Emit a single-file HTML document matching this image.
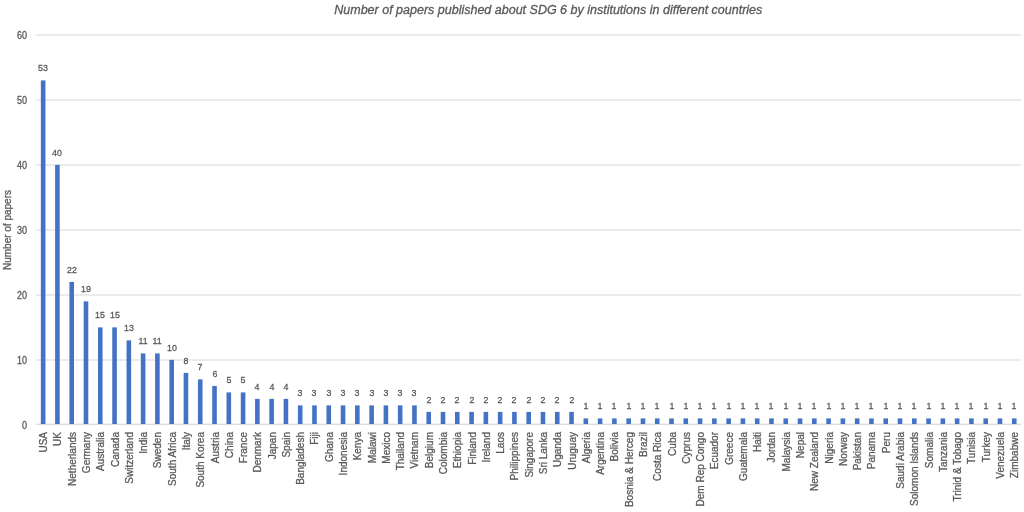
<!DOCTYPE html>
<html><head><meta charset="utf-8"><style>
html,body{margin:0;padding:0;background:#fff;}
body{width:1024px;height:512px;position:relative;overflow:hidden;font-family:"Liberation Sans",sans-serif;color:#595959;}
.g{position:absolute;left:36.0px;width:985.40px;height:2px;background:#EBEBEB;}
.ax{position:absolute;left:36.0px;width:985.40px;height:1px;background:#DCDCDC;}
#tx{position:absolute;left:0;top:0;width:1024px;height:512px;will-change:transform;}
#tx div{-webkit-text-stroke:0.3px #595959;}
.b{position:absolute;width:4.6px;background:#4472C4;}
.l{position:absolute;width:40px;text-align:center;font-size:9.8px;line-height:10px;height:10px;white-space:nowrap;transform:scaleX(0.9);}
.c{position:absolute;font-size:10.0px;line-height:12px;height:12px;width:120px;text-align:right;white-space:nowrap;transform-origin:0 0;}
.y{position:absolute;width:30px;text-align:right;font-size:10.0px;line-height:10px;height:10px;transform:translateY(0.5px) scaleX(0.9);transform-origin:100% 50%;}
.t{position:absolute;font-style:italic;font-size:12.5px;line-height:16px;height:16px;width:600px;text-align:center;white-space:nowrap;}
.a{position:absolute;font-size:10.0px;line-height:12px;height:12px;width:200px;text-align:center;white-space:nowrap;transform-origin:100px 6px;}
</style></head><body>
<div class="g" style="top:359.00px"></div><div class="g" style="top:294.00px"></div><div class="g" style="top:229.00px"></div><div class="g" style="top:164.00px"></div><div class="g" style="top:99.00px"></div><div class="g" style="top:34.00px"></div><div class="ax" style="top:423px;background:#F2F2F2"></div><div class="ax" style="top:424px"></div><svg width="1024" height="512" style="position:absolute;left:0;top:0" fill="#4472C4"><rect x="40.84" y="80.40" width="4.6" height="343.60"/><rect x="55.12" y="164.90" width="4.6" height="259.10"/><rect x="69.40" y="281.90" width="4.6" height="142.10"/><rect x="83.68" y="301.40" width="4.6" height="122.60"/><rect x="97.97" y="327.40" width="4.6" height="96.60"/><rect x="112.25" y="327.40" width="4.6" height="96.60"/><rect x="126.53" y="340.40" width="4.6" height="83.60"/><rect x="140.81" y="353.40" width="4.6" height="70.60"/><rect x="155.09" y="353.40" width="4.6" height="70.60"/><rect x="169.37" y="359.90" width="4.6" height="64.10"/><rect x="183.65" y="372.90" width="4.6" height="51.10"/><rect x="197.93" y="379.40" width="4.6" height="44.60"/><rect x="212.21" y="385.90" width="4.6" height="38.10"/><rect x="226.50" y="392.40" width="4.6" height="31.60"/><rect x="240.78" y="392.40" width="4.6" height="31.60"/><rect x="255.06" y="398.90" width="4.6" height="25.10"/><rect x="269.34" y="398.90" width="4.6" height="25.10"/><rect x="283.62" y="398.90" width="4.6" height="25.10"/><rect x="297.90" y="405.40" width="4.6" height="18.60"/><rect x="312.18" y="405.40" width="4.6" height="18.60"/><rect x="326.46" y="405.40" width="4.6" height="18.60"/><rect x="340.74" y="405.40" width="4.6" height="18.60"/><rect x="355.03" y="405.40" width="4.6" height="18.60"/><rect x="369.31" y="405.40" width="4.6" height="18.60"/><rect x="383.59" y="405.40" width="4.6" height="18.60"/><rect x="397.87" y="405.40" width="4.6" height="18.60"/><rect x="412.15" y="405.40" width="4.6" height="18.60"/><rect x="426.43" y="411.90" width="4.6" height="12.10"/><rect x="440.71" y="411.90" width="4.6" height="12.10"/><rect x="454.99" y="411.90" width="4.6" height="12.10"/><rect x="469.28" y="411.90" width="4.6" height="12.10"/><rect x="483.56" y="411.90" width="4.6" height="12.10"/><rect x="497.84" y="411.90" width="4.6" height="12.10"/><rect x="512.12" y="411.90" width="4.6" height="12.10"/><rect x="526.40" y="411.90" width="4.6" height="12.10"/><rect x="540.68" y="411.90" width="4.6" height="12.10"/><rect x="554.96" y="411.90" width="4.6" height="12.10"/><rect x="569.24" y="411.90" width="4.6" height="12.10"/><rect x="583.52" y="418.40" width="4.6" height="5.60"/><rect x="597.81" y="418.40" width="4.6" height="5.60"/><rect x="612.09" y="418.40" width="4.6" height="5.60"/><rect x="626.37" y="418.40" width="4.6" height="5.60"/><rect x="640.65" y="418.40" width="4.6" height="5.60"/><rect x="654.93" y="418.40" width="4.6" height="5.60"/><rect x="669.21" y="418.40" width="4.6" height="5.60"/><rect x="683.49" y="418.40" width="4.6" height="5.60"/><rect x="697.77" y="418.40" width="4.6" height="5.60"/><rect x="712.06" y="418.40" width="4.6" height="5.60"/><rect x="726.34" y="418.40" width="4.6" height="5.60"/><rect x="740.62" y="418.40" width="4.6" height="5.60"/><rect x="754.90" y="418.40" width="4.6" height="5.60"/><rect x="769.18" y="418.40" width="4.6" height="5.60"/><rect x="783.46" y="418.40" width="4.6" height="5.60"/><rect x="797.74" y="418.40" width="4.6" height="5.60"/><rect x="812.02" y="418.40" width="4.6" height="5.60"/><rect x="826.30" y="418.40" width="4.6" height="5.60"/><rect x="840.59" y="418.40" width="4.6" height="5.60"/><rect x="854.87" y="418.40" width="4.6" height="5.60"/><rect x="869.15" y="418.40" width="4.6" height="5.60"/><rect x="883.43" y="418.40" width="4.6" height="5.60"/><rect x="897.71" y="418.40" width="4.6" height="5.60"/><rect x="911.99" y="418.40" width="4.6" height="5.60"/><rect x="926.27" y="418.40" width="4.6" height="5.60"/><rect x="940.55" y="418.40" width="4.6" height="5.60"/><rect x="954.83" y="418.40" width="4.6" height="5.60"/><rect x="969.12" y="418.40" width="4.6" height="5.60"/><rect x="983.40" y="418.40" width="4.6" height="5.60"/><rect x="997.68" y="418.40" width="4.6" height="5.60"/><rect x="1011.96" y="418.40" width="4.6" height="5.60"/></svg><div id="tx"><div class="t" style="left:248.30px;top:1.60px">Number of papers published about SDG 6 by institutions in different countries</div>
<div class="a" style="left:-92.50px;top:223.50px;transform:rotate(-90deg)">Number of papers</div>
<div class="y" style="left:-2.70px;top:419.50px">0</div>
<div class="y" style="left:-2.70px;top:354.50px">10</div>
<div class="y" style="left:-2.70px;top:289.50px">20</div>
<div class="y" style="left:-2.70px;top:224.50px">30</div>
<div class="y" style="left:-2.70px;top:159.50px">40</div>
<div class="y" style="left:-2.70px;top:94.50px">50</div>
<div class="y" style="left:-2.70px;top:29.50px">60</div>
<div class="l" style="left:23.14px;top:63.40px">53</div><div class="c" style="left:38.14px;top:551.50px;transform:rotate(-90deg)">USA</div>
<div class="l" style="left:37.42px;top:147.90px">40</div><div class="c" style="left:52.42px;top:551.50px;transform:rotate(-90deg)">UK</div>
<div class="l" style="left:51.70px;top:264.90px">22</div><div class="c" style="left:66.70px;top:551.50px;transform:rotate(-90deg)">Netherlands</div>
<div class="l" style="left:65.98px;top:284.40px">19</div><div class="c" style="left:80.98px;top:551.50px;transform:rotate(-90deg)">Germany</div>
<div class="l" style="left:80.27px;top:310.40px">15</div><div class="c" style="left:95.27px;top:551.50px;transform:rotate(-90deg)">Australia</div>
<div class="l" style="left:94.55px;top:310.40px">15</div><div class="c" style="left:109.55px;top:551.50px;transform:rotate(-90deg)">Canada</div>
<div class="l" style="left:108.83px;top:323.40px">13</div><div class="c" style="left:123.83px;top:551.50px;transform:rotate(-90deg)">Switzerland</div>
<div class="l" style="left:123.11px;top:336.40px">11</div><div class="c" style="left:138.11px;top:551.50px;transform:rotate(-90deg)">India</div>
<div class="l" style="left:137.39px;top:336.40px">11</div><div class="c" style="left:152.39px;top:551.50px;transform:rotate(-90deg)">Sweden</div>
<div class="l" style="left:151.67px;top:342.90px">10</div><div class="c" style="left:166.67px;top:551.50px;transform:rotate(-90deg)">South Africa</div>
<div class="l" style="left:165.95px;top:355.90px">8</div><div class="c" style="left:180.95px;top:551.50px;transform:rotate(-90deg)">Italy</div>
<div class="l" style="left:180.23px;top:362.40px">7</div><div class="c" style="left:195.23px;top:551.50px;transform:rotate(-90deg)">South Korea</div>
<div class="l" style="left:194.51px;top:368.90px">6</div><div class="c" style="left:209.51px;top:551.50px;transform:rotate(-90deg)">Austria</div>
<div class="l" style="left:208.80px;top:375.40px">5</div><div class="c" style="left:223.80px;top:551.50px;transform:rotate(-90deg)">China</div>
<div class="l" style="left:223.08px;top:375.40px">5</div><div class="c" style="left:238.08px;top:551.50px;transform:rotate(-90deg)">France</div>
<div class="l" style="left:237.36px;top:381.90px">4</div><div class="c" style="left:252.36px;top:551.50px;transform:rotate(-90deg)">Denmark</div>
<div class="l" style="left:251.64px;top:381.90px">4</div><div class="c" style="left:266.64px;top:551.50px;transform:rotate(-90deg)">Japan</div>
<div class="l" style="left:265.92px;top:381.90px">4</div><div class="c" style="left:280.92px;top:551.50px;transform:rotate(-90deg)">Spain</div>
<div class="l" style="left:280.20px;top:388.40px">3</div><div class="c" style="left:295.20px;top:551.50px;transform:rotate(-90deg)">Bangladesh</div>
<div class="l" style="left:294.48px;top:388.40px">3</div><div class="c" style="left:309.48px;top:551.50px;transform:rotate(-90deg)">Fiji</div>
<div class="l" style="left:308.76px;top:388.40px">3</div><div class="c" style="left:323.76px;top:551.50px;transform:rotate(-90deg)">Ghana</div>
<div class="l" style="left:323.04px;top:388.40px">3</div><div class="c" style="left:338.04px;top:551.50px;transform:rotate(-90deg)">Indonesia</div>
<div class="l" style="left:337.33px;top:388.40px">3</div><div class="c" style="left:352.33px;top:551.50px;transform:rotate(-90deg)">Kenya</div>
<div class="l" style="left:351.61px;top:388.40px">3</div><div class="c" style="left:366.61px;top:551.50px;transform:rotate(-90deg)">Malawi</div>
<div class="l" style="left:365.89px;top:388.40px">3</div><div class="c" style="left:380.89px;top:551.50px;transform:rotate(-90deg)">Mexico</div>
<div class="l" style="left:380.17px;top:388.40px">3</div><div class="c" style="left:395.17px;top:551.50px;transform:rotate(-90deg)">Thailand</div>
<div class="l" style="left:394.45px;top:388.40px">3</div><div class="c" style="left:409.45px;top:551.50px;transform:rotate(-90deg)">Vietnam</div>
<div class="l" style="left:408.73px;top:394.90px">2</div><div class="c" style="left:423.73px;top:551.50px;transform:rotate(-90deg)">Belgium</div>
<div class="l" style="left:423.01px;top:394.90px">2</div><div class="c" style="left:438.01px;top:551.50px;transform:rotate(-90deg)">Colombia</div>
<div class="l" style="left:437.29px;top:394.90px">2</div><div class="c" style="left:452.29px;top:551.50px;transform:rotate(-90deg)">Ethiopia</div>
<div class="l" style="left:451.58px;top:394.90px">2</div><div class="c" style="left:466.58px;top:551.50px;transform:rotate(-90deg)">Finland</div>
<div class="l" style="left:465.86px;top:394.90px">2</div><div class="c" style="left:480.86px;top:551.50px;transform:rotate(-90deg)">Ireland</div>
<div class="l" style="left:480.14px;top:394.90px">2</div><div class="c" style="left:495.14px;top:551.50px;transform:rotate(-90deg)">Laos</div>
<div class="l" style="left:494.42px;top:394.90px">2</div><div class="c" style="left:509.42px;top:551.50px;transform:rotate(-90deg)">Philippines</div>
<div class="l" style="left:508.70px;top:394.90px">2</div><div class="c" style="left:523.70px;top:551.50px;transform:rotate(-90deg)">Singapore</div>
<div class="l" style="left:522.98px;top:394.90px">2</div><div class="c" style="left:537.98px;top:551.50px;transform:rotate(-90deg)">Sri Lanka</div>
<div class="l" style="left:537.26px;top:394.90px">2</div><div class="c" style="left:552.26px;top:551.50px;transform:rotate(-90deg)">Uganda</div>
<div class="l" style="left:551.54px;top:394.90px">2</div><div class="c" style="left:566.54px;top:551.50px;transform:rotate(-90deg)">Uruguay</div>
<div class="l" style="left:565.82px;top:401.40px">1</div><div class="c" style="left:580.82px;top:551.50px;transform:rotate(-90deg)">Algeria</div>
<div class="l" style="left:580.11px;top:401.40px">1</div><div class="c" style="left:595.11px;top:551.50px;transform:rotate(-90deg)">Argentina</div>
<div class="l" style="left:594.39px;top:401.40px">1</div><div class="c" style="left:609.39px;top:551.50px;transform:rotate(-90deg)">Bolivia</div>
<div class="l" style="left:608.67px;top:401.40px">1</div><div class="c" style="left:623.67px;top:551.50px;transform:rotate(-90deg)">Bosnia &amp; Herceg</div>
<div class="l" style="left:622.95px;top:401.40px">1</div><div class="c" style="left:637.95px;top:551.50px;transform:rotate(-90deg)">Brazil</div>
<div class="l" style="left:637.23px;top:401.40px">1</div><div class="c" style="left:652.23px;top:551.50px;transform:rotate(-90deg)">Costa Rica</div>
<div class="l" style="left:651.51px;top:401.40px">1</div><div class="c" style="left:666.51px;top:551.50px;transform:rotate(-90deg)">Cuba</div>
<div class="l" style="left:665.79px;top:401.40px">1</div><div class="c" style="left:680.79px;top:551.50px;transform:rotate(-90deg)">Cyprus</div>
<div class="l" style="left:680.07px;top:401.40px">1</div><div class="c" style="left:695.07px;top:551.50px;transform:rotate(-90deg)">Dem Rep Congo</div>
<div class="l" style="left:694.36px;top:401.40px">1</div><div class="c" style="left:709.36px;top:551.50px;transform:rotate(-90deg)">Ecuador</div>
<div class="l" style="left:708.64px;top:401.40px">1</div><div class="c" style="left:723.64px;top:551.50px;transform:rotate(-90deg)">Greece</div>
<div class="l" style="left:722.92px;top:401.40px">1</div><div class="c" style="left:737.92px;top:551.50px;transform:rotate(-90deg)">Guatemala</div>
<div class="l" style="left:737.20px;top:401.40px">1</div><div class="c" style="left:752.20px;top:551.50px;transform:rotate(-90deg)">Haiti</div>
<div class="l" style="left:751.48px;top:401.40px">1</div><div class="c" style="left:766.48px;top:551.50px;transform:rotate(-90deg)">Jordan</div>
<div class="l" style="left:765.76px;top:401.40px">1</div><div class="c" style="left:780.76px;top:551.50px;transform:rotate(-90deg)">Malaysia</div>
<div class="l" style="left:780.04px;top:401.40px">1</div><div class="c" style="left:795.04px;top:551.50px;transform:rotate(-90deg)">Nepal</div>
<div class="l" style="left:794.32px;top:401.40px">1</div><div class="c" style="left:809.32px;top:551.50px;transform:rotate(-90deg)">New Zealand</div>
<div class="l" style="left:808.60px;top:401.40px">1</div><div class="c" style="left:823.60px;top:551.50px;transform:rotate(-90deg)">Nigeria</div>
<div class="l" style="left:822.89px;top:401.40px">1</div><div class="c" style="left:837.89px;top:551.50px;transform:rotate(-90deg)">Norway</div>
<div class="l" style="left:837.17px;top:401.40px">1</div><div class="c" style="left:852.17px;top:551.50px;transform:rotate(-90deg)">Pakistan</div>
<div class="l" style="left:851.45px;top:401.40px">1</div><div class="c" style="left:866.45px;top:551.50px;transform:rotate(-90deg)">Panama</div>
<div class="l" style="left:865.73px;top:401.40px">1</div><div class="c" style="left:880.73px;top:551.50px;transform:rotate(-90deg)">Peru</div>
<div class="l" style="left:880.01px;top:401.40px">1</div><div class="c" style="left:895.01px;top:551.50px;transform:rotate(-90deg)">Saudi Arabia</div>
<div class="l" style="left:894.29px;top:401.40px">1</div><div class="c" style="left:909.29px;top:551.50px;transform:rotate(-90deg)">Solomon Islands</div>
<div class="l" style="left:908.57px;top:401.40px">1</div><div class="c" style="left:923.57px;top:551.50px;transform:rotate(-90deg)">Somalia</div>
<div class="l" style="left:922.85px;top:401.40px">1</div><div class="c" style="left:937.85px;top:551.50px;transform:rotate(-90deg)">Tanzania</div>
<div class="l" style="left:937.13px;top:401.40px">1</div><div class="c" style="left:952.13px;top:551.50px;transform:rotate(-90deg)">Trinid &amp; Tobago</div>
<div class="l" style="left:951.42px;top:401.40px">1</div><div class="c" style="left:966.42px;top:551.50px;transform:rotate(-90deg)">Tunisia</div>
<div class="l" style="left:965.70px;top:401.40px">1</div><div class="c" style="left:980.70px;top:551.50px;transform:rotate(-90deg)">Turkey</div>
<div class="l" style="left:979.98px;top:401.40px">1</div><div class="c" style="left:994.98px;top:551.50px;transform:rotate(-90deg)">Venezuela</div>
<div class="l" style="left:994.26px;top:401.40px">1</div><div class="c" style="left:1009.26px;top:551.50px;transform:rotate(-90deg)">Zimbabwe</div>
</div>
</body></html>
